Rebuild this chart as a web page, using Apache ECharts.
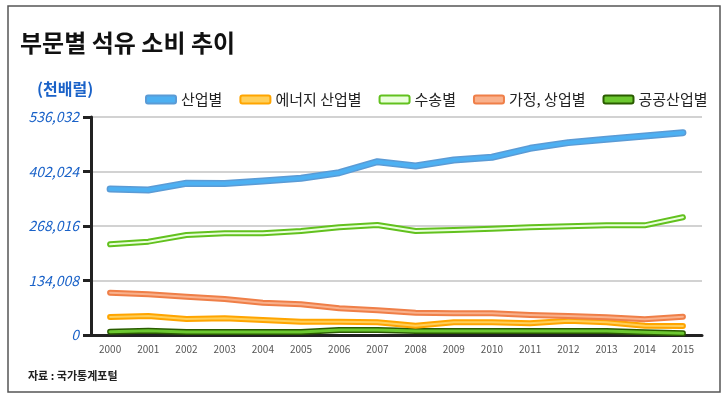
<!DOCTYPE html>
<html><head><meta charset="utf-8">
<script src="https://cdn.jsdelivr.net/npm/echarts@6/dist/echarts.min.js"></script>
<style>html,body{margin:0;padding:0;background:#fff}#c{width:726px;height:400px}</style>
</head><body><div id="c"></div>
<script>
const years = ['2000','2001','2002','2003','2004','2005','2006','2007','2008','2009','2010','2011','2012','2013','2014','2015'];
const seriesNames = ['산업별','에너지 산업별','수송별','가정, 상업별','공공산업별'];
const industry = [359000,356600,373000,372500,378700,385300,399000,426200,415600,430300,437000,459000,473000,481200,489300,497500];
const energy = [44300,46700,39300,41000,36900,32700,32700,31200,22900,31200,31200,28700,35200,31200,22900,22100];
const transport = [223000,229500,245900,250000,250000,255700,264800,270500,255700,258200,261400,264800,267300,269700,269700,289400];
const household = [104000,100000,94200,88500,79400,75500,65600,60700,54800,53400,53400,49200,46700,43500,38600,45000];
const publicSector = [8100,10600,7400,7400,7400,7400,12300,12300,10000,10000,10000,10000,10000,10000,7000,4000];
const yTicks = [0,134008,268016,402024,536032];

const values = [industry, energy, transport, household, publicSector];
const outer = ['#5b9bd5','#ffa500','#62c11e','#ef7f48','#2a5c00'];
const inner = ['#4db0f2','#ffcf5a','#eaffdc','#f9b18c','#6cc830'];
const outerW = [7,6,6,6,6];
const innerW = [4,2,2,2,3];

const font = '"Noto Sans CJK KR", "Noto Sans", sans-serif';
const series = [];
const order = [4,1,3,2,0];
order.forEach(i => {
  series.push({name: seriesNames[i], type:'line', data: values[i], symbol:'none', z: 2,
    lineStyle:{color: outer[i], width: outerW[i], cap:'round', join:'round'}, itemStyle:{color: outer[i]}, emphasis:{disabled:true}});
  series.push({name: seriesNames[i]+'_in', type:'line', data: values[i], symbol:'none', z: 3,
    lineStyle:{color: inner[i], width: innerW[i], cap:'round', join:'round'}, itemStyle:{color: inner[i]}, emphasis:{disabled:true}});
});

const chart = echarts.init(document.getElementById('c'));
chart.setOption({
  animation:false,
  textStyle:{fontFamily: font},
  graphic:[
    {type:'rect', shape:{x:8,y:6,width:712,height:386}, style:{fill:'none', stroke:'#555', lineWidth:1.5}},
    {type:'text', left:20, top:31, style:{text:'부문별 석유 소비 추이', font:'bold 24px '+font, fill:'#111'}},
    {type:'text', left:37, top:81, style:{text:'(천배럴)', font:'bold 16px '+font, fill:'#1a62c8'}},
    {type:'text', left:28, top:370, style:{text:'자료 : 국가통계포털', font:'bold 11px '+font, fill:'#222'}}
  ],
  legend:{
    left:140, top:87, itemWidth:30, itemHeight:8, itemGap:17, icon:'roundRect',
    textStyle:{fontSize:15, color:'#222', fontFamily: font},
    data: seriesNames.map((n,i)=>({name:n, itemStyle:{color: inner[i], borderColor: outer[i], borderWidth:2}}))
  },
  grid:{left:91, right:24, top:117, bottom:65},
  xAxis:{type:'category', data: years, boundaryGap:true,
    axisLine:{lineStyle:{color:'#222', width:3}}, axisTick:{show:false},
    axisLabel:{color:'#555', fontSize:10, margin:9}},
  yAxis:{type:'value', min:yTicks[0], max:yTicks[yTicks.length-1], interval:yTicks[1]-yTicks[0],
    axisLine:{show:true, lineStyle:{color:'#222', width:3}},
    axisTick:{show:true, length:8, lineStyle:{color:'#222', width:3}},
    axisLabel:{color:'#1a62c8', fontSize:14, fontStyle:'italic', margin:12,
      formatter: v => v.toLocaleString('en-US')},
    splitLine:{lineStyle:{color:'#d2d2d2', width:2}}},
  series: series
});
</script></body></html>
